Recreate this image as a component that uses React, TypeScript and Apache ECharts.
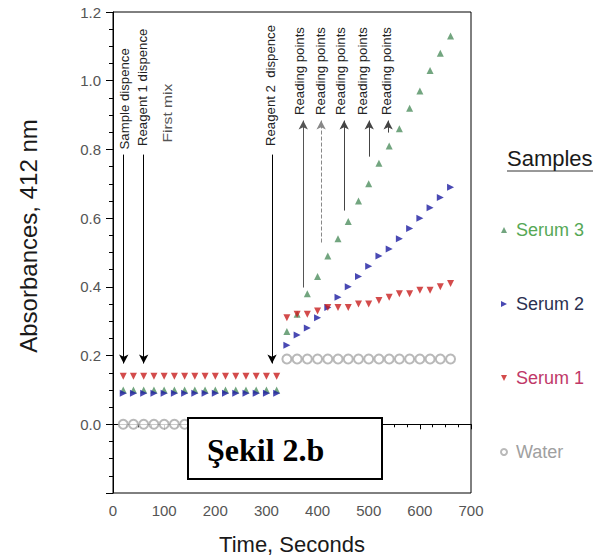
import React, { useEffect, useRef } from 'react';
import * as echarts from 'echarts';

// ---- data ----
const timePre = [20, 40, 60, 80, 100, 120, 140, 160, 180, 200, 220, 240, 260, 280, 300, 320];
const timePost = [340, 360, 380, 400, 420, 440, 460, 480, 500, 520, 540, 560, 580, 600, 620, 640, 660];

const serum3Pre = [0.10, 0.10, 0.10, 0.10, 0.10, 0.10, 0.10, 0.10, 0.10, 0.10, 0.10, 0.10, 0.10, 0.10, 0.10, 0.10];
const serum2Pre = [0.09, 0.09, 0.09, 0.09, 0.09, 0.09, 0.09, 0.09, 0.09, 0.09, 0.09, 0.09, 0.09, 0.09, 0.09, 0.09];
const serum1Pre = [0.14, 0.14, 0.14, 0.14, 0.14, 0.14, 0.14, 0.14, 0.14, 0.14, 0.14, 0.14, 0.14, 0.14, 0.14, 0.14];
const waterPre = [0.0, 0.0, 0.0, 0.0, 0.0, 0.0, 0.0, 0.0, 0.0, 0.0, 0.0, 0.0, 0.0, 0.0, 0.0, 0.0];

const serum3Post = [0.27, 0.32, 0.38, 0.43, 0.49, 0.54, 0.59, 0.65, 0.70, 0.76, 0.81, 0.86, 0.92, 0.97, 1.03, 1.08, 1.13];
const serum2Post = [0.23, 0.26, 0.28, 0.31, 0.34, 0.37, 0.40, 0.43, 0.46, 0.49, 0.51, 0.54, 0.57, 0.60, 0.63, 0.66, 0.69];
const serum1Post = [0.31, 0.32, 0.32, 0.33, 0.34, 0.34, 0.34, 0.35, 0.35, 0.36, 0.37, 0.38, 0.38, 0.39, 0.39, 0.40, 0.41];
const waterPost = [0.19, 0.19, 0.19, 0.19, 0.19, 0.19, 0.19, 0.19, 0.19, 0.19, 0.19, 0.19, 0.19, 0.19, 0.19, 0.19, 0.19];

const seriesNames = ['Serum 3', 'Serum 2', 'Serum 1', 'Water'];

const xTicks = [0, 100, 200, 300, 400, 500, 600, 700];
const yTicks = [-0.2, 0.0, 0.2, 0.4, 0.6, 0.8, 1.0, 1.2];

// annotation arrows (time, start value, end value)
const arrowTimes = [21, 60, 311, 372, 407, 452, 501, 538];
const arrowFrom = [0.785, 0.785, 0.785, 0.398, 0.529, 0.622, 0.779, 0.849];
const arrowTo = [0.177, 0.177, 0.177, 0.884, 0.884, 0.884, 0.884, 0.884];

// annotation labels (time, value where the text starts)
const noteLabels = ['Sample dispence', 'Reagent 1 dispence', 'First mix', 'Reagent 2  dispence',
  'Reading points', 'Reading points', 'Reading points', 'Reading points', 'Reading points'];
const noteTimes = [23, 59, 106, 310, 367, 408, 447, 489, 536];
const noteValues = [0.80, 0.81, 0.82, 0.81, 0.90, 0.90, 0.90, 0.90, 0.90];

const FONT = 'Liberation Sans, Arial, sans-serif';

function pairs(pre: number[], post: number[]) {
  return timePre.map((t, i) => [t, pre[i]]).concat(timePost.map((t, i) => [t, post[i]]));
}

export default function App() {
  const ref = useRef<HTMLDivElement>(null);

  useEffect(() => {
    const chart = echarts.init(ref.current!, null, { renderer: 'svg' });

    const markColors = ['#4f8f5f', '#1c1ca0', '#c81e1e', '#a8a8a8'];
    const legendColors = ['#56a856', '#2b3050', '#c03868', '#a0a0a0'];
    const seriesData = [
      pairs(serum3Pre, serum3Post),
      pairs(serum2Pre, serum2Post),
      pairs(serum1Pre, serum1Post),
      pairs(waterPre, waterPost),
    ];
    const symbols = ['triangle', 'triangle', 'triangle', 'emptyCircle'];
    const rotations = [0, -90, 180, 0];
    const sizes = [7, 7, 7, 9];
    const legendIcons = [
      'path://M5,0 L10,10 L0,10 Z',
      'path://M0,0 L10,5 L0,10 Z',
      'path://M0,0 L10,0 L5,10 Z',
      'emptyCircle',
    ];

    const arrowLineStyles = [
      { color: '#000', width: 1, type: 'solid' },
      { color: '#000', width: 1, type: 'solid' },
      { color: '#000', width: 1, type: 'solid' },
      { color: '#555', width: 1, type: 'solid' },
      { color: '#888', width: 1, type: 'dashed' },
      { color: '#444', width: 1, type: 'solid' },
      { color: '#444', width: 1, type: 'solid' },
      { color: '#444', width: 1, type: 'solid' },
    ];

    const series: any[] = seriesNames.map((name, i) => ({
      name,
      type: 'scatter',
      data: seriesData[i],
      symbol: symbols[i],
      symbolRotate: rotations[i],
      symbolSize: sizes[i],
      itemStyle: { color: markColors[i], borderWidth: i === 3 ? 1 : 0 },
      z: 3,
    }));

    series[3].markLine = {
      silent: true,
      symbol: ['none', 'arrow'],
      symbolSize: [7, 9],
      label: { show: false },
      emphasis: { disabled: true },
      data: arrowTimes.map((t, i) => [
        { coord: [t, arrowFrom[i]], lineStyle: arrowLineStyles[i], itemStyle: { color: arrowLineStyles[i].color } },
        { coord: [t, arrowTo[i]], lineStyle: arrowLineStyles[i], itemStyle: { color: arrowLineStyles[i].color } },
      ]),
    };

    chart.setOption({
      animation: false,
      backgroundColor: '#fff',
      grid: {
        left: 113, right: 136, top: 12, bottom: 66,
        show: true, borderColor: '#000', borderWidth: 1, backgroundColor: 'transparent',
      },
      xAxis: {
        type: 'value',
        min: xTicks[0], max: xTicks[xTicks.length - 1], interval: 100,
        name: 'Time, Seconds', nameLocation: 'middle', nameGap: 40,
        nameTextStyle: { fontSize: 22, color: '#1a1a1a', fontFamily: FONT },
        axisLine: { show: true, lineStyle: { color: '#000', width: 1 } },
        axisTick: { show: true, length: 5, lineStyle: { color: '#000' } },
        minorTick: { show: true, splitNumber: 4, length: 3, lineStyle: { color: '#000' } },
        axisLabel: { fontSize: 15, color: '#555', margin: 10, fontFamily: FONT },
        splitLine: { show: false },
      },
      yAxis: {
        type: 'value',
        min: yTicks[0], max: yTicks[yTicks.length - 1], interval: 0.2,
        axisLine: { show: true, lineStyle: { color: '#000', width: 1 } },
        axisTick: { show: true, length: 7, lineStyle: { color: '#000' } },
        minorTick: { show: true, splitNumber: 4, length: 4, lineStyle: { color: '#000' } },
        axisLabel: {
          fontSize: 15, color: '#555', margin: 12, fontFamily: FONT,
          formatter: (v: number) => (v < -0.01 ? '' : Math.abs(v).toFixed(1)),
        },
        splitLine: { show: false },
      },
      legend: {
        orient: 'vertical',
        left: 495, top: 216,
        itemGap: 56, itemWidth: 6, itemHeight: 6,
        selectedMode: false,
        textStyle: { fontSize: 18, fontFamily: FONT, padding: [0, 0, 0, 4] },
        data: seriesNames.map((name, i) => ({
          name, icon: legendIcons[i], textStyle: { color: legendColors[i] },
        })),
      },
      series,
    });

    const px = (t: number, v: number) => chart.convertToPixel({ gridIndex: 0 }, [t, v]) as number[];

    const graphics: any[] = noteLabels.map((text, i) => {
      const p = px(noteTimes[i], noteValues[i]);
      const isFirstMix = text === 'First mix';
      return {
        type: 'text',
        x: p[0], y: p[1],
        rotation: Math.PI / 2,
        scaleX: isFirstMix ? 1.3 : 1.1,
        z: 50,
        silent: true,
        style: {
          text, fontSize: 12, fontFamily: FONT,
          fill: isFirstMix ? '#555' : '#222',
          align: 'left', verticalAlign: 'middle',
        },
      };
    });

    graphics.push(
      {
        type: 'text', x: 28, y: 236, rotation: Math.PI / 2, z: 50, silent: true,
        style: {
          text: 'Absorbances, 412 nm', fontSize: 24, fontFamily: FONT, fill: '#1a1a1a',
          align: 'center', verticalAlign: 'middle',
        },
      },
      {
        type: 'text', x: 507, y: 158, z: 50, silent: true,
        style: { text: 'Samples', fontSize: 22, fontFamily: FONT, fill: '#1a1a1a', align: 'left', verticalAlign: 'middle' },
      },
      {
        type: 'line', z: 50, silent: true,
        shape: { x1: 507, y1: 171, x2: 593, y2: 171 },
        style: { stroke: '#333', lineWidth: 1 },
      },
      {
        type: 'rect', z: 60, silent: true,
        shape: { x: 188, y: 418, width: 194, height: 61 },
        style: { fill: '#fff', stroke: '#000', lineWidth: 2 },
      },
      {
        type: 'text', x: 207, y: 450, z: 61, silent: true,
        style: {
          text: 'Şekil 2.b', fontSize: 32, fontWeight: 'bold',
          fontFamily: 'Liberation Serif, Times New Roman, serif', fill: '#000',
          align: 'left', verticalAlign: 'middle',
        },
      },
    );

    chart.setOption({ graphic: graphics });

    return () => chart.dispose();
  }, []);

  return (
    <div
      ref={ref}
      style={{ position: 'fixed', left: 0, top: 0, width: 607, height: 560, background: '#fff' }}
    />
  );
}
